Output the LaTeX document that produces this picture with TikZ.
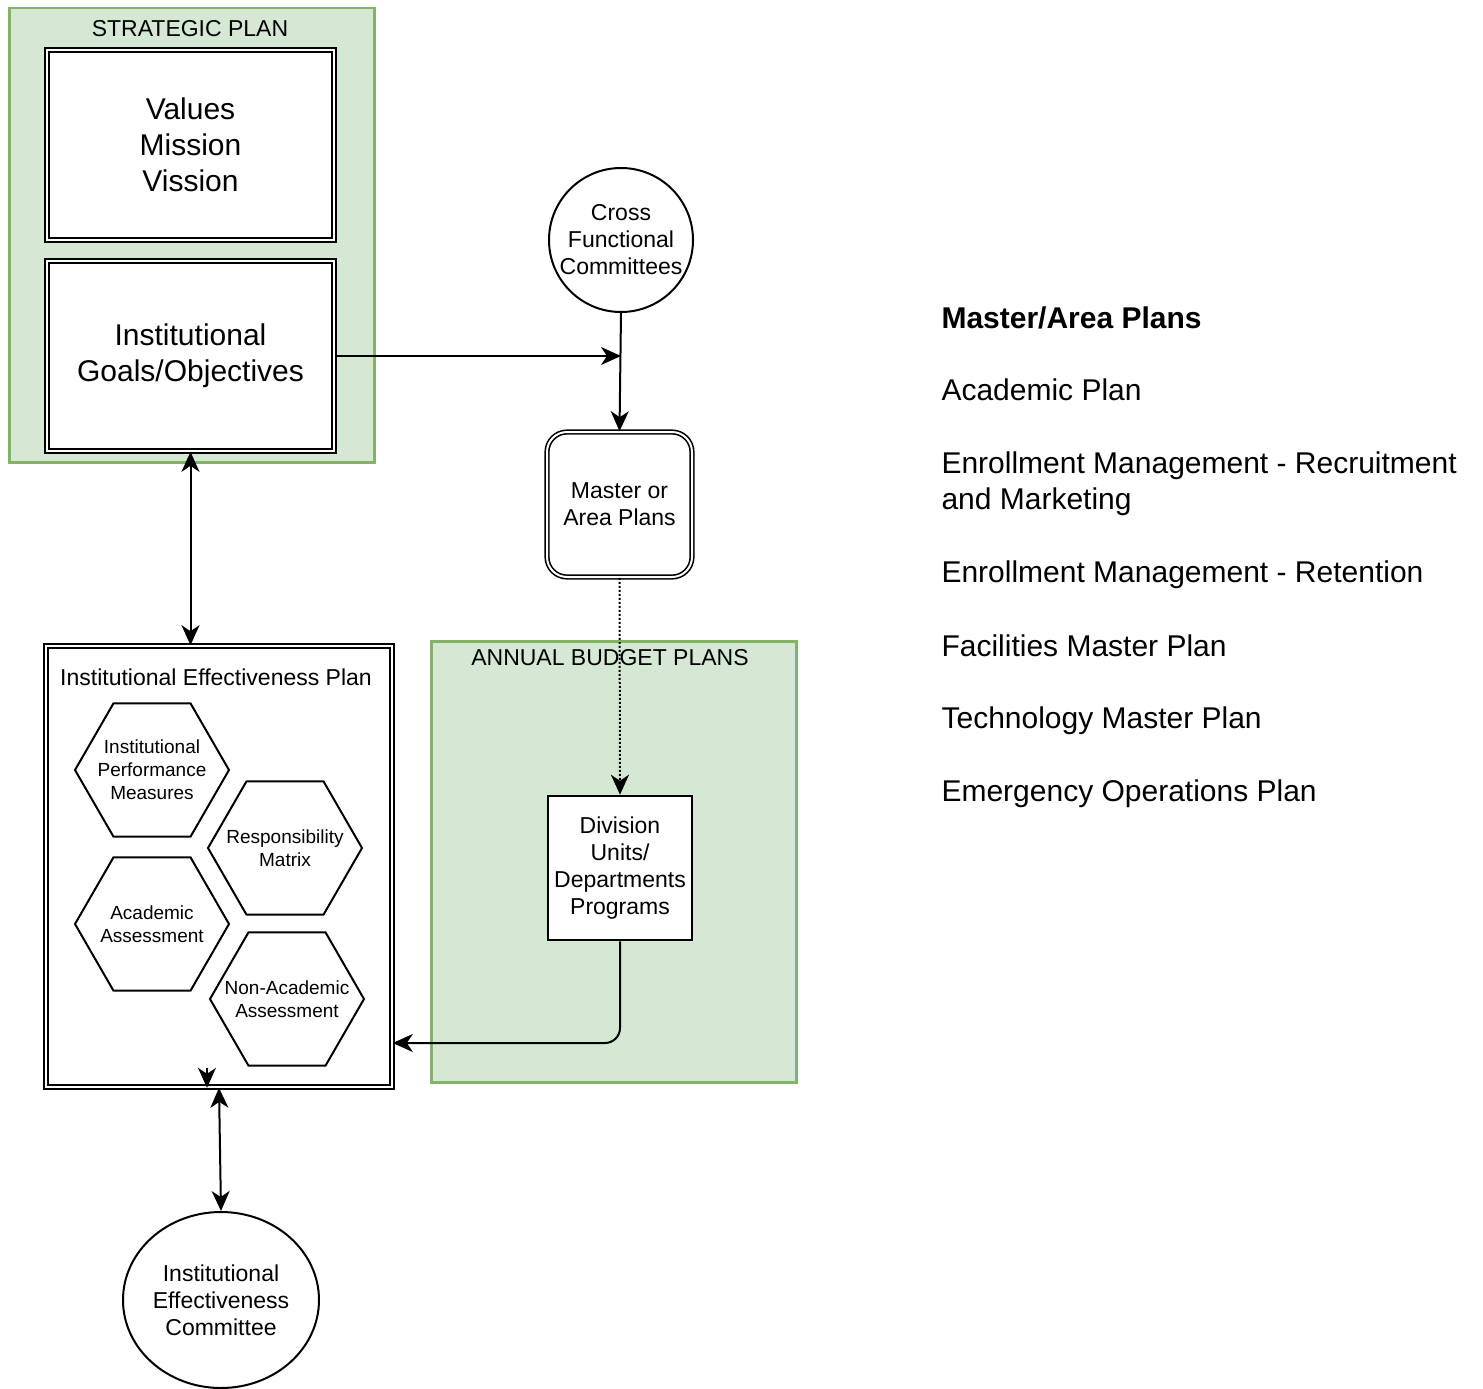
\documentclass[tikz,border=0pt]{standalone}
\usepackage{fontspec}
\setmainfont{Liberation Sans}
\usetikzlibrary{shapes.geometric, arrows.meta, positioning}

\definecolor{planline}{HTML}{82B366}
\definecolor{planfill}{HTML}{D5E8D4}

\tikzset{
    bigtext/.style={font=\fontsize{30}{36}\selectfont},
    midtext/.style={font=\fontsize{23}{27}\selectfont},
    smalltext/.style={font=\fontsize{19}{23}\selectfont},
    greenbox/.style={draw=planline, fill=planfill, line width=2.5pt, anchor=north west, inner sep=0},
    dblbox/.style={draw, double=white, line width=1.6pt, double distance=2pt, fill=white, align=center},
    plainbox/.style={draw, line width=2.5pt, fill=white, align=center, inner sep=0},
    hexa/.style={regular polygon, regular polygon sides=6, minimum size=154, inner sep=0,
        draw, line width=2pt, fill=white, label={[smalltext, align=center]center:{#1}}},
    tip/.tip={Stealth[length=20pt, width=18pt, inset=6pt]},
    arr/.style={-tip, line width=2pt},
    dblarr/.style={tip-tip, line width=2pt}
}

\begin{document}
\begin{tikzpicture}[x=1pt, y=-1pt]
    \useasboundingbox (0,0) rectangle (1483,1389);

    % Strategic plan
    \node[greenbox, minimum width=365, minimum height=454] (strat) at (8,7) {};
    \node[midtext] (stratlbl) at (190,29) {STRATEGIC PLAN};
    \node[dblbox, bigtext, minimum width=287, minimum height=190] (vals) at (190.5,145) {Values\\Mission\\Vission};
    \node[dblbox, bigtext, minimum width=287, minimum height=190] (goals) at (190.5,356) {Institutional\\Goals/Objectives};

    % Committees and area plans
    \node[circle, draw, line width=2pt, fill=white, minimum size=144, inner sep=0, midtext, align=center] (cfc) at (621,240) {Cross\\Functional\\Committees};
    \node[dblbox, midtext, rounded corners=20, minimum width=145, minimum height=145] (mast) at (619.5,504.5) {Master or\\Area Plans};

    % Annual budget plans
    \node[greenbox, minimum width=365, minimum height=441] (budget) at (430,640) {};
    \node[midtext] (budgetlbl) at (610,658) {ANNUAL BUDGET PLANS};
    \node[plainbox, midtext, minimum width=144, minimum height=144] (div) at (620,868) {Division\\Units/\\Departments\\Programs};

    % Institutional effectiveness plan
    \node[dblbox, minimum width=346, minimum height=441] (iep) at (219,866.5) {};
    \node[midtext] (ieplbl) at (216,677) {Institutional Effectiveness Plan};
    \node[hexa={Institutional\\Performance\\Measures}] (ipm) at (152,770) {};
    \node[hexa={Responsibility\\Matrix}] (resp) at (285,848) {};
    \node[hexa={Academic\\Assessment}] (acad) at (152,924) {};
    \node[hexa={Non-Academic\\Assessment}] (nonacad) at (287,999) {};

    \node[ellipse, draw, line width=2pt, fill=white, minimum width=196, minimum height=176, inner sep=0, midtext, align=center] (iec) at (221,1300) {Institutional\\Effectiveness\\Committee};

    % Right-hand list
    \node[bigtext, anchor=west] (listhead) at (938,318) {\bfseries Master/Area Plans};
    \node[bigtext, anchor=west] (acadplan) at (938,390) {Academic Plan};
    \node[bigtext, anchor=west, align=left] (recruit) at (938,484) {Enrollment Management - Recruitment\\and Marketing};
    \node[bigtext, anchor=west] (retain) at (938,575) {Enrollment Management - Retention};
    \node[bigtext, anchor=west] (facil) at (938,646) {Facilities Master Plan};
    \node[bigtext, anchor=west] (tech) at (938,721) {Technology Master Plan};
    \node[bigtext, anchor=west] (emerg) at (938,794) {Emergency Operations Plan};

    % Connectors
    \coordinate (jn) at (cfc.south |- goals.east);
    \coordinate (iepin) at (iep.east |- 0,1043);
    \coordinate (iepbot) at ([xshift=-12pt]iep.south);
    \coordinate (iepbotin) at ([xshift=-12pt, yshift=20pt]iep.south);

    \draw[arr] (goals.east) -- (jn);
    \draw[arr] (cfc.south) -- (mast.north);
    \draw[arr, dotted] (mast.south) -- (div.north);
    \draw[arr, rounded corners=15] (div.south) |- (iepin);
    \draw[dblarr] (goals.south) -- (goals.south |- iep.north);
    \draw[dblarr] (iep.south) -- (iec.north);
    \draw[arr] (iepbotin) -- (iepbot);
\end{tikzpicture}
\end{document}
